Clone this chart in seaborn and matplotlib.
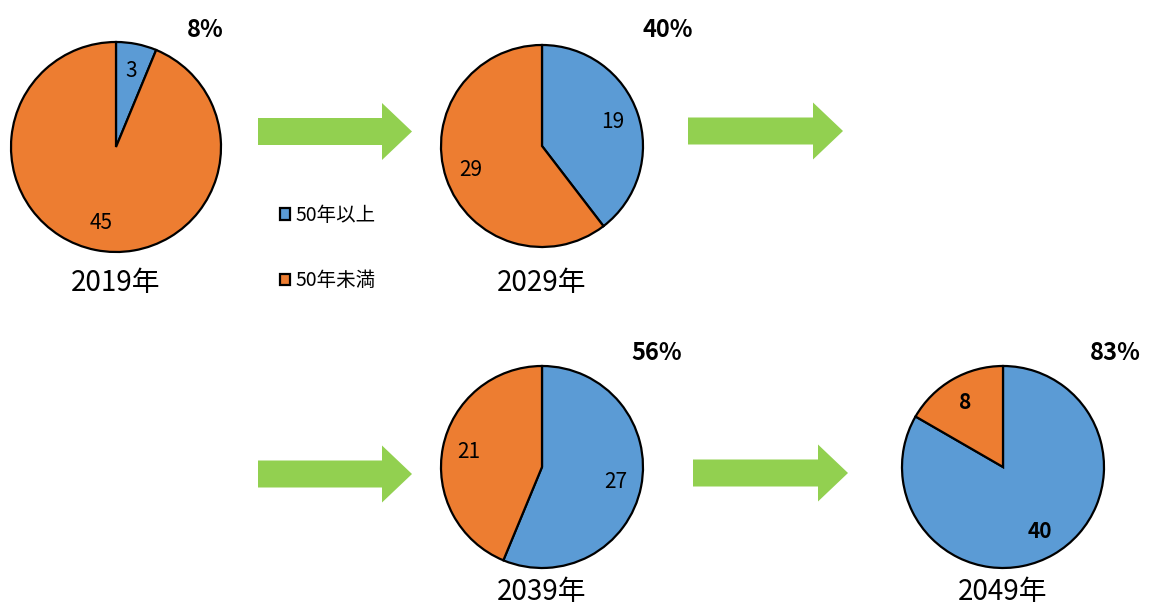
import matplotlib
matplotlib.use('Agg')
import matplotlib.pyplot as plt
from matplotlib.patches import FancyArrow
import seaborn as sns

# data
years = ["2019年", "2029年", "2039年", "2049年"]
over50 = [3, 19, 27, 40]
under50 = [45, 29, 21, 8]
share_labels = ["8%", "40%", "56%", "83%"]
series_names = ["50年以上", "50年未満"]
bold_values = [False, False, False, True]

sns.set_theme(style="white")
plt.rcParams['font.family'] = ['Noto Sans CJK JP', 'DejaVu Sans']
plt.rcParams['text.color'] = 'black'

colors = ["#5B9BD5", "#ED7D31"]
green = "#92D050"
H = 606

# layout in pixel coords (y from top)
centers = [(116, 147), (542, 146), (542, 467), (1003, 467)]
radii = [105, 101, 101, 101]
pct_offsets = [(89, -117), (126, -116), (115, -114), (112, -114)]
year_y = [283, 283, 592, 592]
arrows = [(258, 131.5, 412), (688, 131, 843), (258, 474, 412), (693, 473, 848)]

fig = plt.figure(figsize=(11.49, 6.06), dpi=100)
ax = fig.add_axes([0, 0, 1, 1])

wedges_all = []
for i in range(4):
    cx, cy = centers[i]
    r = radii[i]
    wedges, texts = ax.pie(
        [over50[i], under50[i]],
        labels=[str(over50[i]), str(under50[i])],
        colors=colors, startangle=90, counterclock=False,
        center=(cx, H - cy), radius=r, labeldistance=0.74,
        wedgeprops=dict(edgecolor="black", linewidth=1.6),
        textprops=dict(fontsize=15, color="black",
                       fontweight="bold" if bold_values[i] else "normal",
                       ha="center", va="center"),
        frame=True,
    )
    if i == 0:
        wedges_all = wedges
    dx, dy = pct_offsets[i]
    ax.text(cx + dx, H - (cy + dy), share_labels[i], fontsize=17, fontweight="bold",
            color="black", ha="center", va="center")
    ax.text(cx, H - year_y[i], years[i], fontsize=20, color="black",
            ha="center", va="center")

for x0, y0, x1 in arrows:
    ax.add_patch(FancyArrow(x0, H - y0, x1 - x0, 0, width=27, head_width=57,
                            head_length=30, length_includes_head=True,
                            color=green, linewidth=0))

leg = ax.legend(wedges_all, series_names, loc="upper left",
                bbox_to_anchor=(270 / 1149, 1 - 195 / H), frameon=False,
                fontsize=14, handlelength=0.55, handleheight=0.55,
                handletextpad=0.25, labelspacing=2.3, borderpad=0,
                labelcolor="black")

ax.set_xlim(0, 1149)
ax.set_ylim(0, H)
ax.set_aspect("equal")
ax.axis("off")

fig.savefig("out.png", dpi=100)
